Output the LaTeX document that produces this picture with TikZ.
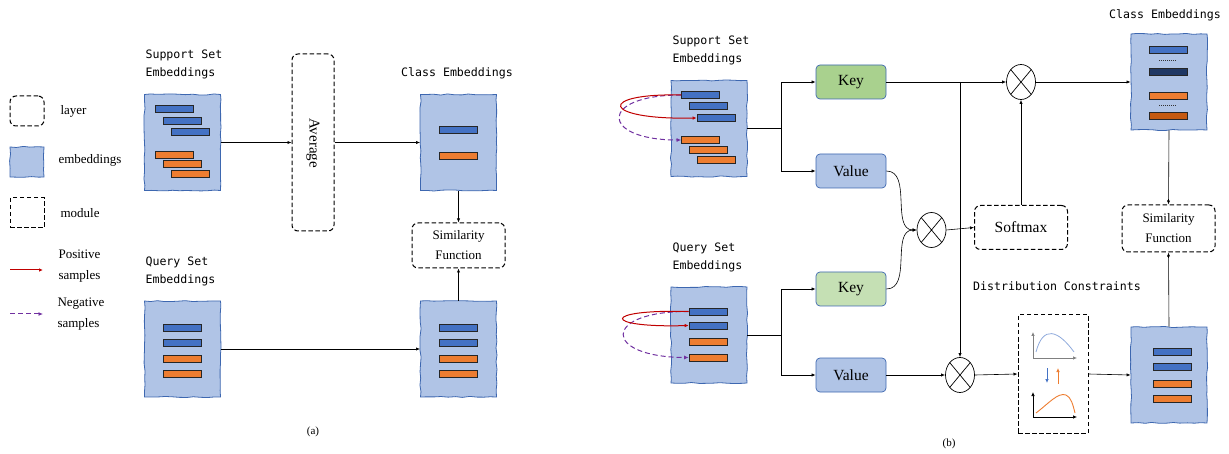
\documentclass[tikz,border=0pt]{standalone}
\usepackage{fontspec}
\setmainfont{Liberation Serif}
\setmonofont{DejaVu Sans Mono}
\usetikzlibrary{arrows.meta,decorations.pathmorphing,shapes.geometric,positioning}
\definecolor{embfill}{HTML}{B0C4E6}
\definecolor{embline}{HTML}{3D67B0}
\definecolor{barblue}{HTML}{4472C4}
\definecolor{barnavy}{HTML}{203864}
\definecolor{barorange}{HTML}{ED7D31}
\definecolor{barrust}{HTML}{C55A11}
\definecolor{keygreen}{HTML}{A9D18E}
\definecolor{keylight}{HTML}{C5E0B4}
\definecolor{posred}{HTML}{C00000}
\definecolor{negpurple}{HTML}{7030A0}
\tikzset{%
  embbox/.style    = {draw=embline, fill=embfill, line width=0.8pt,%
                      minimum width=76pt, minimum height=96pt, inner sep=0pt,%
                      decorate, decoration={random steps, segment length=7pt, amplitude=0.6pt}},%
  bar/.style       = {draw=black!85, line width=0.6pt, inner sep=0pt,%
                      minimum width=38pt, minimum height=7pt},%
  bluebar/.style   = {bar, fill=barblue},%
  navybar/.style   = {bar, fill=barnavy},%
  orangebar/.style = {bar, fill=barorange},%
  rustbar/.style   = {bar, fill=barrust},%
  layerbox/.style  = {draw=black, line width=1pt, dash pattern=on 4.5pt off 2.5pt,%
                      rounded corners=6pt, align=center},%
  modulebox/.style = {draw=black, line width=1pt, dash pattern=on 4.5pt off 2.5pt},%
  keybox/.style    = {draw=embline, line width=0.7pt, rounded corners=4pt,%
                      minimum width=70pt, minimum height=34pt,%
                      font=\fontsize{15.5}{18}\selectfont},%
  valuebox/.style  = {keybox, fill=embfill},%
  mult/.style      = {ellipse, draw, line width=0.7pt, inner sep=0pt,%
                      minimum width=29pt, minimum height=35pt,%
                      path picture={\draw[line width=0.7pt] (path picture bounding box.north west) -- (path picture bounding box.south east)%
                                          (path picture bounding box.south west) -- (path picture bounding box.north east);}},%
  conn/.style      = {draw=black, line width=0.6pt, -{Latex[length=4pt,width=3.2pt]}},%
  posarr/.style    = {draw=posred, line width=1pt, -{Latex[length=4pt,width=3.5pt]}},%
  negarr/.style    = {draw=negpurple, line width=1pt, dash pattern=on 5pt off 3pt,%
                      -{Latex[length=4.5pt,width=4pt]}},%
  monolabel/.style = {font=\ttfamily\fontsize{11.6}{18}\selectfont, align=left}%
}

\begin{document}
\begin{tikzpicture}[x=1pt,y=-1pt,
	every node/.style={font=\fontsize{13}{15}\selectfont}]
	\useasboundingbox (0,0) rectangle (1229,454);
	% legend
	\node[layerbox, minimum width=34pt, minimum height=30pt] (lglayer) at (27,111) {};
	\node[anchor=west] (lglayertxt) at (57,111) {layer};
	\node[embbox, minimum width=34pt, minimum height=30pt] (lgemb) at (27,162) {};
	\node[anchor=west] (lgembtxt) at (55,160) {embeddings};
	\node[modulebox, minimum width=34pt, minimum height=30pt] (lgmod) at (27,213) {};
	\node[anchor=west] (lgmodtxt) at (57,213) {module};
	\coordinate (lgposa) at (10,270);
	\coordinate (lgposb) at (43,270);
	\draw[posarr] (lgposa) -- (lgposb);
	\node[anchor=west, align=left, font=\fontsize{13}{21}\selectfont] (lgpostxt) at (55,266) {Positive\\samples};
	\coordinate (lgnega) at (10,314);
	\coordinate (lgnegb) at (43,314);
	\draw[negarr] (lgnega) -- (lgnegb);
	\node[anchor=west, align=left, font=\fontsize{13}{21}\selectfont] (lgnegtxt) at (54,314) {Negative\\samples};

	% (a)
	\node[monolabel, anchor=west] (supAlbl) at (142,64) {Support Set\\Embeddings};
	\node[embbox] (supA) at (182.5,142.5) {};
	\node[bluebar] (supAb1) at (174,108.5) {};
	\node[bluebar] (supAb2) at (182,120.5) {};
	\node[bluebar] (supAb3) at (190,131.5) {};
	\node[orangebar] (supAo1) at (174,154.5) {};
	\node[orangebar] (supAo2) at (182,163.5) {};
	\node[orangebar] (supAo3) at (190,174) {};
	\node[layerbox, minimum width=42pt, minimum height=177pt] (avg) at (313,142.5) {};
	\node[rotate=-90, font=\fontsize{15}{18}\selectfont] (avgtxt) at (313,143) {Average};
	\node[monolabel] (clsAlbl) at (457,73) {Class Embeddings};
	\node[embbox] (clsA) at (458.5,142.5) {};
	\node[bluebar] (clsAb) at (458,129.5) {};
	\node[orangebar] (clsAo) at (458,155.5) {};
	\node[layerbox, minimum width=93pt, minimum height=45pt,
		font=\fontsize{13}{20}\selectfont] (simA) at (458.5,245.5) {Similarity\\Function};
	\node[monolabel, anchor=west] (qryAlbl) at (142,271) {Query Set\\Embeddings};
	\node[embbox] (qryA) at (182.5,349) {};
	\node[embbox] (outA) at (458.5,349) {};
	\foreach \y/\s [count=\i] in {327.5/bluebar,342.5/bluebar,358.5/orangebar,373.5/orangebar}{
		\node[\s] (qryAbar\i) at (182,\y) {};
		\node[\s] (outAbar\i) at (458,\y) {};
	}
	\draw[conn] (supA.east) -- (avg.west);
	\draw[conn] (avg.east) -- (clsA.west);
	\draw[conn] (clsA.south) -- (simA.north);
	\draw[conn] (outA.north) -- (simA.south);
	\draw[conn] (qryA.east) -- (outA.west);
	\node[font=\fontsize{11}{13}\selectfont] (capA) at (313,432) {(a)};

	% (b) support branch
	\node[monolabel, anchor=west] (supBlbl) at (669,50) {Support Set\\Embeddings};
	\node[embbox] (supB) at (709,128.5) {};
	\node[bluebar] (supBb1) at (700.5,95) {};
	\node[bluebar] (supBb2) at (708,106) {};
	\node[bluebar] (supBb3) at (716,118) {};
	\node[orangebar] (supBo1) at (700.5,140) {};
	\node[orangebar] (supBo2) at (708,150) {};
	\node[orangebar] (supBo3) at (716,160) {};
	\draw[negarr] (supBb1.west) .. controls (598,95) and (600,140) .. (supBo1.west);
	\draw[posarr] (supBb1.west) .. controls (597,93) and (600,120) .. (supBb3.west);
	\node[keybox, fill=keygreen] (keyT) at (851,82) {Key};
	\node[valuebox] (valT) at (851,171) {Value};
	\coordinate (supBsplit) at (781,128.5);
	\draw[draw=black, line width=0.6pt] (supB.east) -- (supBsplit);
	\draw[conn] (supBsplit) |- (keyT.west);
	\draw[conn] (supBsplit) |- (valT.west);

	% (b) query branch
	\node[monolabel, anchor=west] (qryBlbl) at (669,257) {Query Set\\Embeddings};
	\node[embbox] (qryB) at (709,335) {};
	\foreach \y/\s [count=\i] in {311.5/bluebar,325.5/bluebar,342/orangebar,357.5/orangebar}{
		\node[\s] (qryBbar\i) at (708,\y) {};
	}
	\draw[negarr] (qryBbar1.west) .. controls (602,311) and (602,357) .. (qryBbar4.west);
	\draw[posarr] (qryBbar1.west) .. controls (601,309) and (601,328) .. (qryBbar2.west);
	\node[keybox, fill=keylight] (keyB) at (851,289) {Key};
	\node[valuebox] (valB) at (851,375) {Value};
	\coordinate (qryBsplit) at (781,335);
	\draw[draw=black, line width=0.6pt] (qryB.east) -- (qryBsplit);
	\draw[conn] (qryBsplit) |- (keyB.west);
	\draw[conn] (qryBsplit) |- (valB.west);

	% (b) attention
	\node[mult] (mulT) at (1021,82) {};
	\node[mult] (mulM) at (931.5,230) {};
	\node[mult] (mulB) at (960,375) {};
	\coordinate (keyTsplit) at (960,82);
	\draw[conn] (keyT.east) -- (mulT.west);
	\draw[conn] (keyTsplit) -- (mulB.north);
	\draw[conn] (valT.east) to[out=0,in=180] (mulM.west);
	\draw[conn] (keyB.east) to[out=0,in=180] (mulM.west);
	\draw[conn] (valB.east) -- (mulB.west);
	\node[layerbox, minimum width=93pt, minimum height=44pt,
		font=\fontsize{15.5}{18}\selectfont] (soft) at (1021,227.5) {Softmax};
	\draw[conn] (mulM.east) -- (soft.west);
	\draw[conn] (soft.north) -- (mulT.south);

	% (b) class embeddings
	\node[monolabel] (clsBlbl) at (1165,15) {Class Embeddings};
	\node[embbox] (clsB) at (1169,82) {};
	\node[bluebar] (clsBb1) at (1168,49.5) {};
	\node[navybar] (clsBb2) at (1168,71.5) {};
	\node[orangebar] (clsBo1) at (1168,95.5) {};
	\node[rustbar] (clsBo2) at (1168,116) {};
	\draw[black!80, line width=1pt, dash pattern=on 1pt off 1pt] (1159,61) -- (1177,61);
	\draw[black!80, line width=1pt, dash pattern=on 1pt off 1pt] (1159,106) -- (1177,106);
	\draw[conn] (mulT.east) -- (clsB.west);
	\node[layerbox, minimum width=93pt, minimum height=47pt,
		font=\fontsize{13}{20}\selectfont] (simB) at (1168.5,228.5) {Similarity\\Function};
	\draw[conn] (clsB.south) -- (simB.north);

	% (b) distribution constraints
	\node[monolabel] (distlbl) at (1057,286) {Distribution Constraints};
	\node[modulebox, minimum width=70pt, minimum height=118pt] (dist) at (1053,374) {};
	\draw[gray, line width=0.7pt, -{Latex[length=4pt,width=3.5pt]}] (1033,358) -- (1077,358);
	\draw[gray, line width=0.7pt, -{Latex[length=4pt,width=3.5pt]}] (1033,358) -- (1033,332);
	\draw[barblue!60, line width=0.8pt] (1036,352) .. controls (1043,325) and (1058,330) .. (1074,352);
	\draw[barblue, line width=0.7pt, -{Latex[length=4pt,width=3.5pt]}] (1047,368) -- (1047,383);
	\draw[barorange, line width=0.7pt, -{Latex[length=4pt,width=3.5pt]}] (1058,384) -- (1058,368);
	\draw[black, line width=0.7pt, -{Latex[length=4pt,width=3.5pt]}] (1033,417) -- (1077,417);
	\draw[black, line width=0.7pt, -{Latex[length=4pt,width=3.5pt]}] (1033,417) -- (1033,392);
	\draw[barorange, line width=0.9pt] (1036,413) .. controls (1048,404) and (1058,392) .. (1066,395)
		.. controls (1071,397) and (1073,405) .. (1075,413);
	\node[embbox] (outB) at (1169,375) {};
	\foreach \y/\s [count=\i] in {352/bluebar,367/bluebar,383.5/orangebar,398.5/orangebar}{
		\node[\s] (outBbar\i) at (1172,\y) {};
	}
	\draw[conn] (mulB.east) -- (dist.west);
	\draw[conn] (dist.east) -- (outB.west);
	\draw[conn] (outB.north) -- (simB.south);
	\node[font=\fontsize{11}{13}\selectfont] (capB) at (949,444) {(b)};
\end{tikzpicture}
\end{document}
